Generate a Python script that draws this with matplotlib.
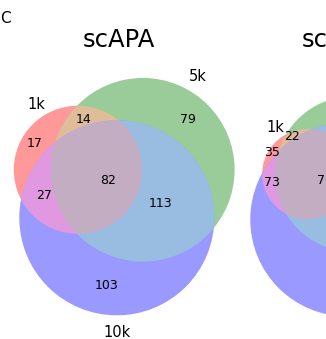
import numpy as np
import matplotlib
matplotlib.use("Agg")
import matplotlib.pyplot as plt
from matplotlib.patches import Circle, Polygon

# ---- data -------------------------------------------------------------
set_labels = ["1k", "5k", "10k"]
# region keys: membership in (1k, 5k, 10k)
region_keys = ["100", "010", "110", "001", "101", "011", "111"]
scapa_title = "scAPA"
scapa_counts = [17, 79, 14, 103, 27, 113, 82]
trap_title = "scAPAtrap"
trap_counts = [35, 458, 22, 1877, 73, 1430, 760]
panel_letter = "C"

# ---- style ------------------------------------------------------------
W, H, DPI = 326, 339, 100
ALPHA = 0.4
BASE = [np.array([1.0, 0.0, 0.0]), np.array([0.0, 0.5, 0.0]), np.array([0.0, 0.0, 1.0])]
NUM_SIZE = 9
SET_SIZE = 10.5
TITLE_SIZE = 17.5


def region_color(key):
    cols = [BASE[i] for i, k in enumerate(key) if k == "1"]
    if len(cols) == 1:
        c = cols[0]
    elif len(cols) == 2:
        c = np.minimum(0.7 * (cols[0] + cols[1]), 1.0)
    else:
        c = np.minimum(0.4 * (cols[0] + cols[1] + cols[2]), 1.0)
    return tuple(1.0 - ALPHA * (1.0 - c))  # semi-transparent fill over white


def lens_area(r1, r2, d):
    if d >= r1 + r2:
        return 0.0
    if d <= abs(r1 - r2):
        return np.pi * min(r1, r2) ** 2
    a1 = r1 ** 2 * np.arccos((d * d + r1 * r1 - r2 * r2) / (2 * d * r1))
    a2 = r2 ** 2 * np.arccos((d * d + r2 * r2 - r1 * r1) / (2 * d * r2))
    a3 = 0.5 * np.sqrt((-d + r1 + r2) * (d + r1 - r2) * (d - r1 + r2) * (d + r1 + r2))
    return a1 + a2 - a3


def distance_for_area(r1, r2, area):
    lo, hi = abs(r1 - r2), r1 + r2
    for _ in range(200):
        mid = 0.5 * (lo + hi)
        if lens_area(r1, r2, mid) > area:
            lo = mid
        else:
            hi = mid
    return 0.5 * (lo + hi)


def venn3_layout(counts):
    """Area-proportional circle centres/radii, total area normalised to 1."""
    c = dict(zip(region_keys, counts))
    total = float(sum(counts))
    areas = np.array([
        c["100"] + c["110"] + c["101"] + c["111"],
        c["010"] + c["110"] + c["011"] + c["111"],
        c["001"] + c["101"] + c["011"] + c["111"],
    ]) / total
    ab = (c["110"] + c["111"]) / total
    bc = (c["011"] + c["111"]) / total
    ac = (c["101"] + c["111"]) / total
    r = np.sqrt(areas / np.pi)
    d_ab = distance_for_area(r[0], r[1], ab)
    d_bc = distance_for_area(r[1], r[2], bc)
    d_ac = distance_for_area(r[0], r[2], ac)
    cx = (d_ac ** 2 - d_bc ** 2 + d_ab ** 2) / (2 * d_ab)
    cy = -np.sqrt(max(d_ac ** 2 - cx ** 2, 0.0))
    centers = np.array([[0.0, 0.0], [d_ab, 0.0], [cx, cy]])
    cmass = (centers * (r ** 2)[:, None]).sum(0) / (r ** 2).sum()
    return centers - cmass, r


def disk_intersection(cs, rs, n=1440):
    t = np.linspace(0, 2 * np.pi, n, endpoint=False)
    pts = []
    for k in range(len(cs)):
        p = cs[k] + rs[k] * np.column_stack([np.cos(t), np.sin(t)])
        inside = np.ones(n, bool)
        for m in range(len(cs)):
            if m != k:
                inside &= np.hypot(p[:, 0] - cs[m][0], p[:, 1] - cs[m][1]) <= rs[m] + 1e-9
        pts.append(p[inside])
    pts = np.vstack(pts)
    mid = pts.mean(0)
    order = np.argsort(np.arctan2(pts[:, 1] - mid[1], pts[:, 0] - mid[0]))
    return pts[order]


def in_region(pts, key, pc, pr):
    mask = np.ones(len(pts), bool)
    for i, k in enumerate(key):
        inside = np.hypot(pts[:, 0] - pc[i, 0], pts[:, 1] - pc[i, 1]) <= pr[i]
        mask &= inside if k == "1" else ~inside
    return mask


def outer_arcs(pc, pr, n=3600):
    """Arcs of each circle that bound a region from the outside (convex side)."""
    t = np.linspace(0, 2 * np.pi, n, endpoint=False)
    arcs = {k: [] for k in region_keys}
    for i in range(3):
        pts = pc[i] + pr[i] * np.column_stack([np.cos(t), np.sin(t)])
        others = [j for j in range(3) if j != i]
        code = np.zeros(n, int)
        for b, j in enumerate(others):
            code |= (np.hypot(pts[:, 0] - pc[j, 0], pts[:, 1] - pc[j, 1]) < pr[j]).astype(int) << b
        change = np.nonzero(code != np.roll(code, 1))[0]
        if len(change) == 0:
            runs = [(0, n)]
        else:
            runs = [(change[k], change[(k + 1) % len(change)]) for k in range(len(change))]
        for s, e in runs:
            idx = np.arange(s, e if e > s else e + n) % n
            c = code[idx[0]]
            key = ["0"] * 3
            key[i] = "1"
            for b, j in enumerate(others):
                key[j] = "1" if (c >> b) & 1 else "0"
            arcs["".join(key)].append(dict(circle=i, length=len(idx) * 2 * np.pi / n * pr[i],
                                           mid=pts[idx[len(idx) // 2]]))
    return arcs


def label_position(key, pc, pr, arcs, X, Y, inside):
    if key.count("1") == 2:
        # lens-shaped pieces: area centroid
        mask = np.ones_like(X, bool)
        for i, k in enumerate(key):
            mask &= inside[i] if k == "1" else ~inside[i]
        return np.array([X[mask].mean(), Y[mask].mean()])
    # crescents and the core: middle of the in-region part of the radius
    # that runs to the midpoint of the region's longest outer arc
    arc = max(arcs[key], key=lambda a: a["length"])
    c = pc[arc["circle"]]
    s = np.linspace(0, 1, 2001)
    seg = c + s[:, None] * (arc["mid"] - c)
    ok = in_region(seg, key, pc, pr)
    top = np.nonzero(ok)[0].max()
    bot = top
    while bot > 0 and ok[bot - 1]:
        bot -= 1
    return 0.5 * (seg[top] + seg[bot])


def draw_venn(ax, counts, title, anchor, scale, title_xy):
    centers, radii = venn3_layout(counts)
    pc = np.asarray(anchor) + scale * centers * np.array([1.0, -1.0])
    pr = scale * radii

    singles = ["100", "010", "001"]
    for i in range(3):
        ax.add_patch(Circle(pc[i], pr[i], fc=region_color(singles[i]), ec="none", lw=0))
    for (i, j), key in zip([(0, 1), (1, 2), (0, 2)], ["110", "011", "101"]):
        poly = disk_intersection(pc[[i, j]], pr[[i, j]])
        ax.add_patch(Polygon(poly, closed=True, fc=region_color(key), ec="none", lw=0))
    poly = disk_intersection(pc, pr)
    ax.add_patch(Polygon(poly, closed=True, fc=region_color("111"), ec="none", lw=0))

    xs = np.linspace((pc[:, 0] - pr).min(), (pc[:, 0] + pr).max(), 700)
    ys = np.linspace((pc[:, 1] - pr).min(), (pc[:, 1] + pr).max(), 700)
    X, Y = np.meshgrid(xs, ys)
    inside = [np.hypot(X - pc[i, 0], Y - pc[i, 1]) <= pr[i] for i in range(3)]
    arcs = outer_arcs(pc, pr)
    for key, val in zip(region_keys, counts):
        x, y = label_position(key, pc, pr, arcs, X, Y, inside)
        ax.text(x, y, str(val), ha="center", va="center", fontsize=NUM_SIZE, color="black")

    # set labels
    ax.text(pc[0, 0] - pr[0] / 2, pc[0, 1] - pr[0] + 3, set_labels[0], ha="right",
            va="baseline", fontsize=SET_SIZE)
    ax.text(pc[1, 0] + pr[1] / 2, pc[1, 1] - pr[1] + 3, set_labels[1], ha="left",
            va="baseline", fontsize=SET_SIZE)
    ax.text(pc[2, 0], pc[2, 1] + pr[2] + 10, set_labels[2], ha="center",
            va="top", fontsize=SET_SIZE)

    ax.text(title_xy[0], title_xy[1], title, ha="center", va="baseline", fontsize=TITLE_SIZE)


fig = plt.figure(figsize=(W / DPI, H / DPI), dpi=DPI)
ax = fig.add_axes([0, 0, 1, 1])
ax.set_xlim(0, W)
ax.set_ylim(H, 0)
ax.axis("off")

draw_venn(ax, scapa_counts, scapa_title, anchor=(119.5, 190.5), scale=200.0,
          title_xy=(118.5, 47))
draw_venn(ax, trap_counts, trap_title, anchor=(344.5, 198.5), scale=182.0,
          title_xy=(363, 47))

ax.text(0, 23, panel_letter, ha="left", va="baseline", fontsize=11)

fig.savefig("out.png", dpi=DPI)
